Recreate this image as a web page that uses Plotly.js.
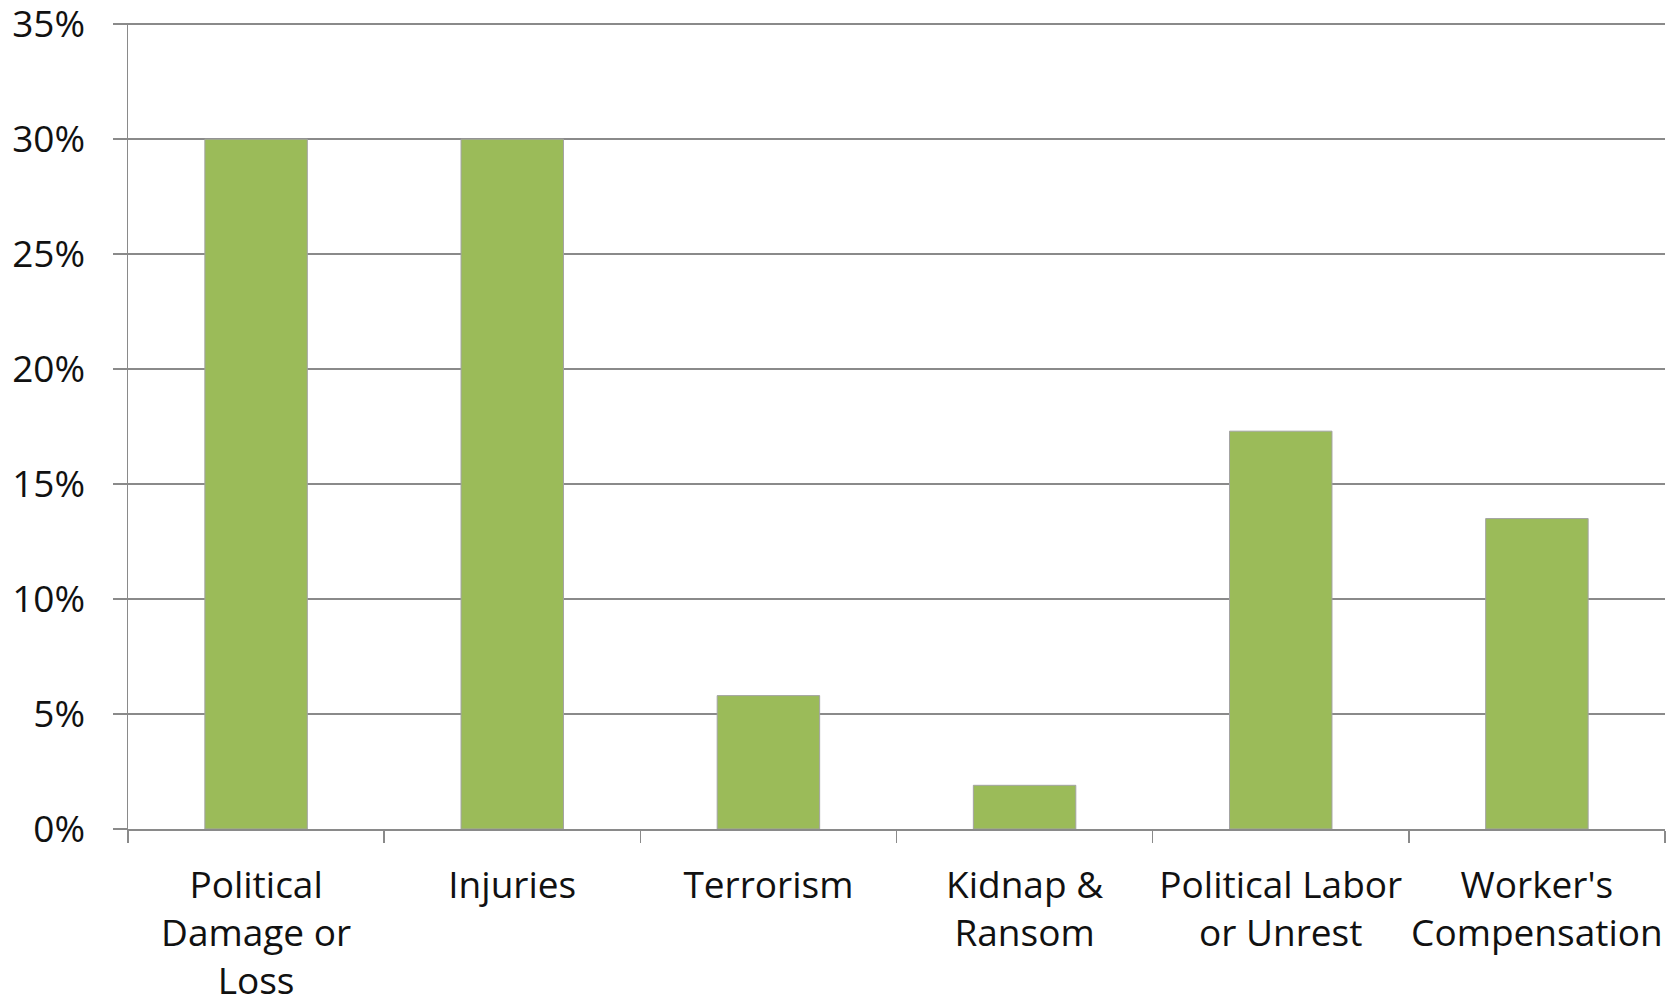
<!DOCTYPE html>
<html>
<head>
<meta charset="utf-8">
<script src="https://cdn.plot.ly/plotly-3.0.1.min.js"></script>
<style>html,body{margin:0;padding:0;background:#fff;}#chart{width:1674px;height:1004px;}</style>
</head>
<body>
<div id="chart"></div>
<script>
const categories = ["Political Damage or Loss", "Injuries", "Terrorism", "Kidnap & Ransom", "Political Labor or Unrest", "Worker's Compensation"];
const tickLabels = ["Political<br>Damage or<br>Loss", "Injuries", "Terrorism", "Kidnap &<br>Ransom", "Political Labor<br>or Unrest", "Worker's<br>Compensation"];
const shares = [0.30, 0.30, 0.058, 0.019, 0.173, 0.135];
const yTickVals = [0, 0.05, 0.10, 0.15, 0.20, 0.25, 0.30, 0.35];
const yTickText = ["0%", "5%", "10%", "15%", "20%", "25%", "30%", "35%"];

const trace = {
  type: 'bar',
  x: categories,
  y: shares,
  marker: {color: '#9BBB59', line: {color: '#a3a3a3', width: 1}},
  hoverinfo: 'x+y'
};

const layout = {
  width: 1674,
  height: 1004,
  margin: {l: 128, r: 9, t: 23, b: 175},
  paper_bgcolor: '#ffffff',
  plot_bgcolor: '#ffffff',
  bargap: 0.6,
  showlegend: false,
  font: {family: '"Open Sans", "DejaVu Sans", sans-serif', size: 37, color: '#111111'},
  xaxis: {
    type: 'category',
    tickmode: 'array',
    tickvals: categories,
    ticktext: tickLabels,
    tickangle: 0,
    tickson: 'boundaries',
    ticks: 'outside',
    ticklen: 12,
    tickwidth: 1.5,
    tickcolor: '#8a8a8a',
    showline: true,
    linecolor: '#8a8a8a',
    linewidth: 1.5,
    showgrid: false,
    ticklabelstandoff: 23,
    ticklabeloverflow: 'allow',
    tickfont: {size: 37},
    zeroline: false
  },
  yaxis: {
    range: [0, 0.3505],
    tickmode: 'array',
    tickvals: yTickVals,
    ticktext: yTickText,
    ticks: 'outside',
    ticklen: 14,
    tickwidth: 1.5,
    tickcolor: '#8a8a8a',
    showline: true,
    linecolor: '#8a8a8a',
    linewidth: 1.5,
    showgrid: true,
    gridcolor: '#8a8a8a',
    gridwidth: 1.5,
    zeroline: false,
    ticklabelstandoff: 20,
    ticklabeloverflow: 'allow',
    tickfont: {size: 37}
  }
};

Plotly.newPlot('chart', [trace], layout, {displayModeBar: false, staticPlot: true});
</script>
</body>
</html>
